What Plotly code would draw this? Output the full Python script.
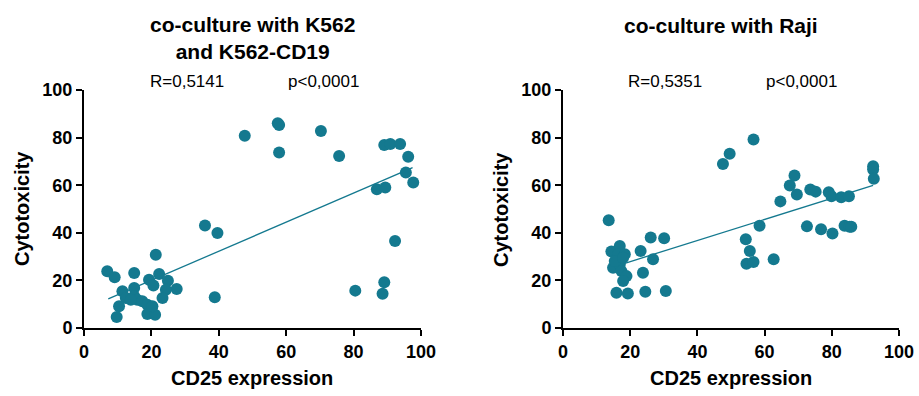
import plotly.graph_objects as go

# ---- Left panel: co-culture with K562 and K562-CD19 ----
k562_cd25 = [6.9, 9.1, 14.9, 21.3, 22.3, 19.3, 20.6, 24.9, 27.5, 24.3, 23.3, 14.9,
             11.4, 12.4, 14.9, 15.8, 17.3, 18.8, 10.4, 9.7, 18.8, 21.1, 20.3, 13.9,
             35.9, 39.6, 38.8, 47.7, 57.5, 57.9, 57.9, 70.3, 75.7, 80.5, 86.9, 89.4,
             89.1, 90.9, 93.8, 96.2, 95.5, 97.7, 92.3, 89.1, 88.6]
k562_cyto = [23.8, 21.3, 23.1, 30.8, 22.7, 20.3, 17.9, 19.9, 16.4, 16.1, 12.6, 16.8,
             15.4, 12.6, 13.3, 11.9, 11.2, 9.8, 9.1, 4.6, 5.9, 5.6, 9.1, 11.9,
             43.1, 39.9, 12.9, 80.8, 86.0, 85.3, 73.7, 82.8, 72.3, 15.7, 58.3, 59.0,
             76.9, 77.3, 77.3, 72.0, 65.3, 61.1, 36.6, 19.2, 14.4]
k562_fit_x = [7.2, 97.5]
k562_fit_y = [12.2, 67.4]

# ---- Right panel: co-culture with Raji ----
raji_cd25 = [13.6, 26.1, 30.1, 14.4, 16.9, 16.4, 18.4, 23.1, 26.8, 14.9, 16.9, 17.4,
             18.9, 17.9, 23.8, 15.9, 19.3, 24.5, 30.6, 15.4, 17.9,
             47.6, 49.6, 56.7, 54.4, 55.6, 54.6, 56.7, 58.5, 62.7, 64.7, 67.5, 68.9,
             69.6, 72.6, 73.6, 75.2, 76.8, 79.1, 79.9, 80.2, 82.8, 85.1, 83.8, 85.3,
             85.8, 92.3, 92.3, 92.5]
raji_cyto = [45.3, 38.0, 37.7, 32.1, 34.5, 31.0, 31.0, 32.4, 28.9, 25.3, 26.7, 23.9,
             21.8, 19.7, 23.2, 14.8, 14.5, 15.2, 15.5, 28.1, 29.5,
             68.9, 73.2, 79.2, 37.3, 32.4, 27.0, 27.7, 43.0, 28.9, 53.2, 59.9, 64.1,
             56.1, 42.7, 58.2, 57.3, 41.5, 57.0, 55.4, 39.7, 54.9, 55.4, 43.0, 42.5,
             42.5, 68.0, 66.6, 62.7]
raji_fit_x = [18.4, 92.3]
raji_fit_y = [27.2, 59.9]

titles = ["<b>co-culture with K562<br>and K562-CD19</b>", "<b>co-culture with Raji</b>"]
r_labels = ["R=0,5141", "R=0,5351"]
p_labels = ["p<0,0001", "p<0,0001"]
x_title = "CD25 expression"
y_title = "Cytotoxicity"
tick_vals = [0, 20, 40, 60, 80, 100]

TEAL = "#14798f"
FONT = "Liberation Sans, Arial, sans-serif"

fig = go.Figure()
panels = [(k562_cd25, k562_cyto, k562_fit_x, k562_fit_y, "x", "y"),
          (raji_cd25, raji_cyto, raji_fit_x, raji_fit_y, "x2", "y2")]
for xs, ys, fx, fy, xa, ya in panels:
    fig.add_trace(go.Scatter(x=fx, y=fy, mode="lines", xaxis=xa, yaxis=ya,
                             line=dict(color=TEAL, width=1.3), showlegend=False))
    fig.add_trace(go.Scatter(x=xs, y=ys, mode="markers", xaxis=xa, yaxis=ya,
                             marker=dict(color=TEAL, size=12, line=dict(width=0)),
                             showlegend=False, cliponaxis=False))

ydom = [1 - 328 / 396, 1 - 90 / 396]
xdoms = [[84 / 919, 421 / 919], [563 / 919, 899 / 919]]

axis_common = dict(range=[0, 100], tickvals=tick_vals, showline=True, linecolor="black",
                   linewidth=2, ticks="outside", ticklen=6, tickwidth=2, tickcolor="black",
                   showgrid=False, zeroline=False, automargin=False,
                   tickfont=dict(family=FONT, size=18, color="black", weight="bold"))

fig.update_layout(
    width=919, height=396, margin=dict(l=0, r=0, t=0, b=0),
    plot_bgcolor="white", paper_bgcolor="white",
    xaxis=dict(domain=xdoms[0], anchor="y", **axis_common),
    yaxis=dict(domain=ydom, anchor="x", **axis_common),
    xaxis2=dict(domain=xdoms[1], anchor="y2", **axis_common),
    yaxis2=dict(domain=ydom, anchor="x2", **axis_common),
)

ann = []
title_y = [38, 26]
title_dx = [0, -10 / 919]
for i, (x0, x1) in enumerate(xdoms):
    cx = (x0 + x1) / 2
    ann.append(dict(text=titles[i], x=cx + title_dx[i], y=1 - title_y[i] / 396, xref="paper", yref="paper",
                    showarrow=False, font=dict(family=FONT, size=21, color="black"),
                    xanchor="center", yanchor="middle"))
    w = x1 - x0
    ann.append(dict(text=r_labels[i], x=x0 + w * 0.305, y=1 - 81 / 396, xref="paper", yref="paper",
                    showarrow=False, font=dict(family=FONT, size=17, color="black"),
                    xanchor="center", yanchor="middle"))
    ann.append(dict(text=p_labels[i], x=x0 + w * 0.71, y=1 - 81 / 396, xref="paper", yref="paper",
                    showarrow=False, font=dict(family=FONT, size=17, color="black"),
                    xanchor="center", yanchor="middle"))
    ann.append(dict(text="<b>" + x_title + "</b>", x=cx, y=1 - 378 / 396, xref="paper", yref="paper",
                    showarrow=False, font=dict(family=FONT, size=20, color="black"),
                    xanchor="center", yanchor="middle"))
    ann.append(dict(text="<b>" + y_title + "</b>", x=x0 - 62 / 919, y=(ydom[0] + ydom[1]) / 2,
                    xref="paper", yref="paper", textangle=-90,
                    showarrow=False, font=dict(family=FONT, size=20, color="black"),
                    xanchor="center", yanchor="middle"))
fig.update_layout(annotations=ann)

fig.write_html("out.html", config={"displayModeBar": False},
               post_script="document.body.style.margin='0px';")
